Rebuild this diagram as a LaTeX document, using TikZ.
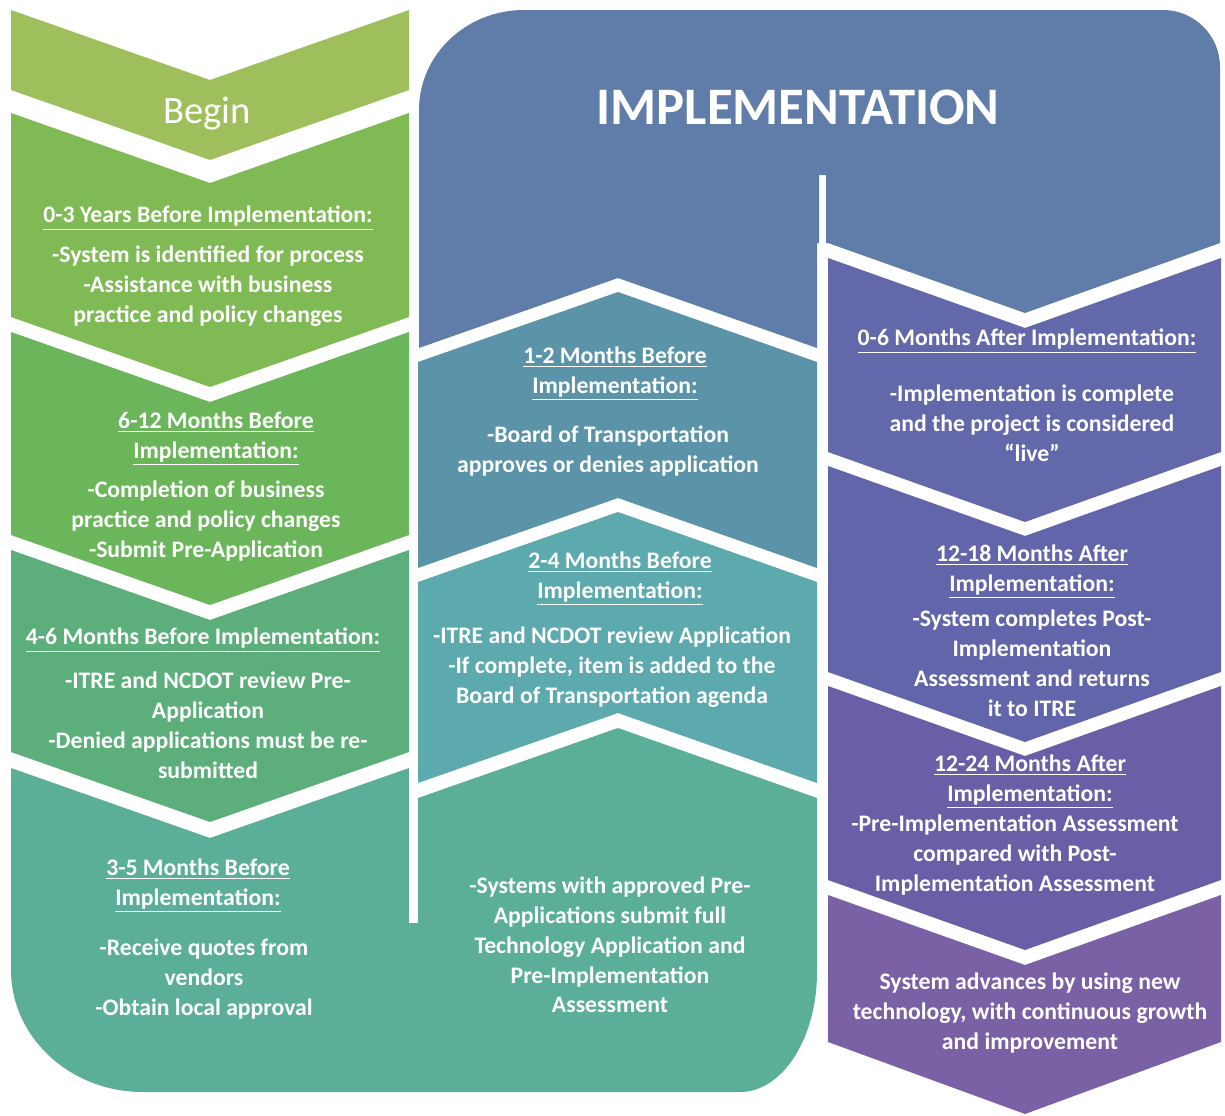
\documentclass[tikz,border=0pt]{standalone}
\usepackage{fontspec}
\usepackage{xcolor}
\setmainfont{Carlito}

\definecolor{verdeA}{HTML}{9EBF5B}
\definecolor{verdeB}{HTML}{80BA55}
\definecolor{verdeC}{HTML}{6BB65A}
\definecolor{verdeD}{HTML}{5CAE7B}
\definecolor{verdeE}{HTML}{5BAE97}
\definecolor{turqA}{HTML}{5CA9AE}
\definecolor{turqB}{HTML}{5B93A9}
\definecolor{azul}{HTML}{5F7DA8}
\definecolor{violA}{HTML}{6268AA}
\definecolor{violB}{HTML}{6265A9}
\definecolor{violC}{HTML}{695FA7}
\definecolor{violD}{HTML}{7A60A4}

\newcommand{\ul}[1]{\underline{#1}}

\begin{document}
\begin{tikzpicture}[x=0.02cm,y=-0.02cm,
    cuerpo/.style={text=white,align=center,inner sep=0pt,
        font=\fontsize{13.5}{17}\selectfont\bfseries},
    titulo/.style={cuerpo}]

    \useasboundingbox (0,0) rectangle (1225,1116);

    % columna izquierda (hacia abajo)
    % Begin
    \fill[verdeA] (11,10) -- (210,80) -- (409,10) -- (409,90) -- (210,160) -- (11,90) -- cycle;
    % 0-3 anios
    \fill[verdeB] (11,113) -- (210,183) -- (409,113) -- (409,317) -- (210,387) -- (11,317) -- cycle;
    % 6-12 meses
    \fill[verdeC] (11,332) -- (210,402) -- (409,332) -- (409,535) -- (210,605) -- (11,535) -- cycle;
    % 4-6 meses
    \fill[verdeD] (11,550) -- (210,620) -- (409,550) -- (409,752) -- (210,822) -- (11,752) -- cycle;

    % parte de abajo (3-5 meses y solicitud)
    \fill[verdeE] (11,768) -- (210,838) -- (409,768) -- (418,798) -- (618,728) -- (817,798)
        -- (817,972) arc[start angle=0,end angle=90,x radius=77,y radius=120]
        -- (143,1092) arc[start angle=90,end angle=180,x radius=132,y radius=122] -- cycle;
    \fill[white] (409,760) rectangle (418,923);

    % columna del medio (hacia arriba)
    % 2-4 meses
    \fill[turqA] (418,582) -- (618,512) -- (817,582) -- (817,783) -- (618,713) -- (418,783) -- cycle;
    % 1-2 meses
    \fill[turqB] (418,362) -- (618,292) -- (817,362) -- (817,568) -- (618,498) -- (418,568) -- cycle;

    % arriba: implementacion
    \fill[azul] (419,348) -- (419,110) arc[start angle=180,end angle=270,x radius=105,y radius=100]
        -- (1163,10) arc[start angle=270,end angle=360,x radius=57,y radius=57]
        -- (1220,243) -- (1025,313) -- (828,243) -- (826,243) -- (826,175) -- (819,175)
        -- (819,243) -- (817,243) -- (817,348) -- (618,278) -- cycle;

    % columna derecha (hacia abajo)
    % 0-6 meses despues
    \fill[violA] (828,258) -- (1025,328) -- (1221,258) -- (1221,452) -- (1025,522) -- (828,452) -- cycle;
    % 12-18 meses despues
    \fill[violB] (828,466) -- (1025,536) -- (1221,466) -- (1221,672) -- (1025,742) -- (828,672) -- cycle;
    % 12-24 meses despues
    \fill[violC] (828,686) -- (1025,756) -- (1221,686) -- (1221,880) -- (1025,950) -- (828,880) -- cycle;
    % final
    \fill[violD] (828,895) -- (1025,965) -- (1221,895) -- (1221,1042) -- (1025,1114) -- (828,1042) -- cycle;

    %leyendas
    \node[text=white,inner sep=0pt,font=\fontsize{22}{26}\selectfont] (begin) at (207,114) {Begin};
    \node[text=white,inner sep=0pt,font=\fontsize{30}{34}\selectfont\bfseries] (impl) at (798,107) {IMPLEMENTATION};

    \node[titulo] (h03) at (208,218) {\ul{0-3 Years Before Implementation:}};
    \node[cuerpo] (b03) at (208,286) {-System is identified for process\\-Assistance with business\\practice and policy changes};
    \node[titulo] (h612) at (216,439) {\ul{6-12 Months Before}\\\ul{Implementation:}};
    \node[cuerpo] (b612) at (206,521) {-Completion of business\\practice and  policy changes\\-Submit Pre-Application};
    \node[titulo] (h46) at (203,640) {\ul{4-6 Months Before Implementation:}};
    \node[cuerpo] (b46) at (208,725) {-ITRE and NCDOT review Pre-\\Application\\-Denied applications must be re-\\submitted};
    \node[titulo] (h35) at (198,886) {\ul{3-5 Months Before}\\\ul{Implementation:}};
    \node[cuerpo] (b35) at (204,979) {-Receive quotes from\\vendors\\-Obtain local approval};

    \node[titulo] (h12) at (615,374) {\ul{1-2 Months Before}\\\ul{Implementation:}};
    \node[cuerpo] (b12) at (608,451) {-Board of Transportation\\approves or denies application};
    \node[titulo] (h24) at (620,579) {\ul{2-4 Months Before}\\\ul{Implementation:}};
    \node[cuerpo] (b24) at (612,667) {-ITRE and NCDOT review Application\\-If complete, item is added to the\\Board of Transportation agenda};
    \node[cuerpo] (bsys) at (610,945) {-Systems with approved Pre-\\Applications submit full\\Technology Application and\\Pre-Implementation\\Assessment};

    \node[titulo] (h06) at (1027,341) {\ul{0-6 Months After Implementation:}};
    \node[cuerpo] (b06) at (1032,423) {-Implementation is complete\\and the project is considered\\“live”};
    \node[titulo] (h1218) at (1032,572) {\ul{12-18 Months After}\\\ul{Implementation:}};
    \node[cuerpo] (b1218) at (1032,663) {-System completes Post-\\Implementation\\Assessment and returns\\it to ITRE};
    \node[titulo] (h1224) at (1030,782) {\ul{12-24 Months After}\\\ul{Implementation:}};
    \node[cuerpo] (b1224) at (1015,855) {-Pre-Implementation Assessment\\compared with Post-\\Implementation Assessment};
    \node[cuerpo] (bfin) at (1030,1013) {System advances by using new\\technology, with continuous growth\\and improvement};

\end{tikzpicture}
\end{document}
